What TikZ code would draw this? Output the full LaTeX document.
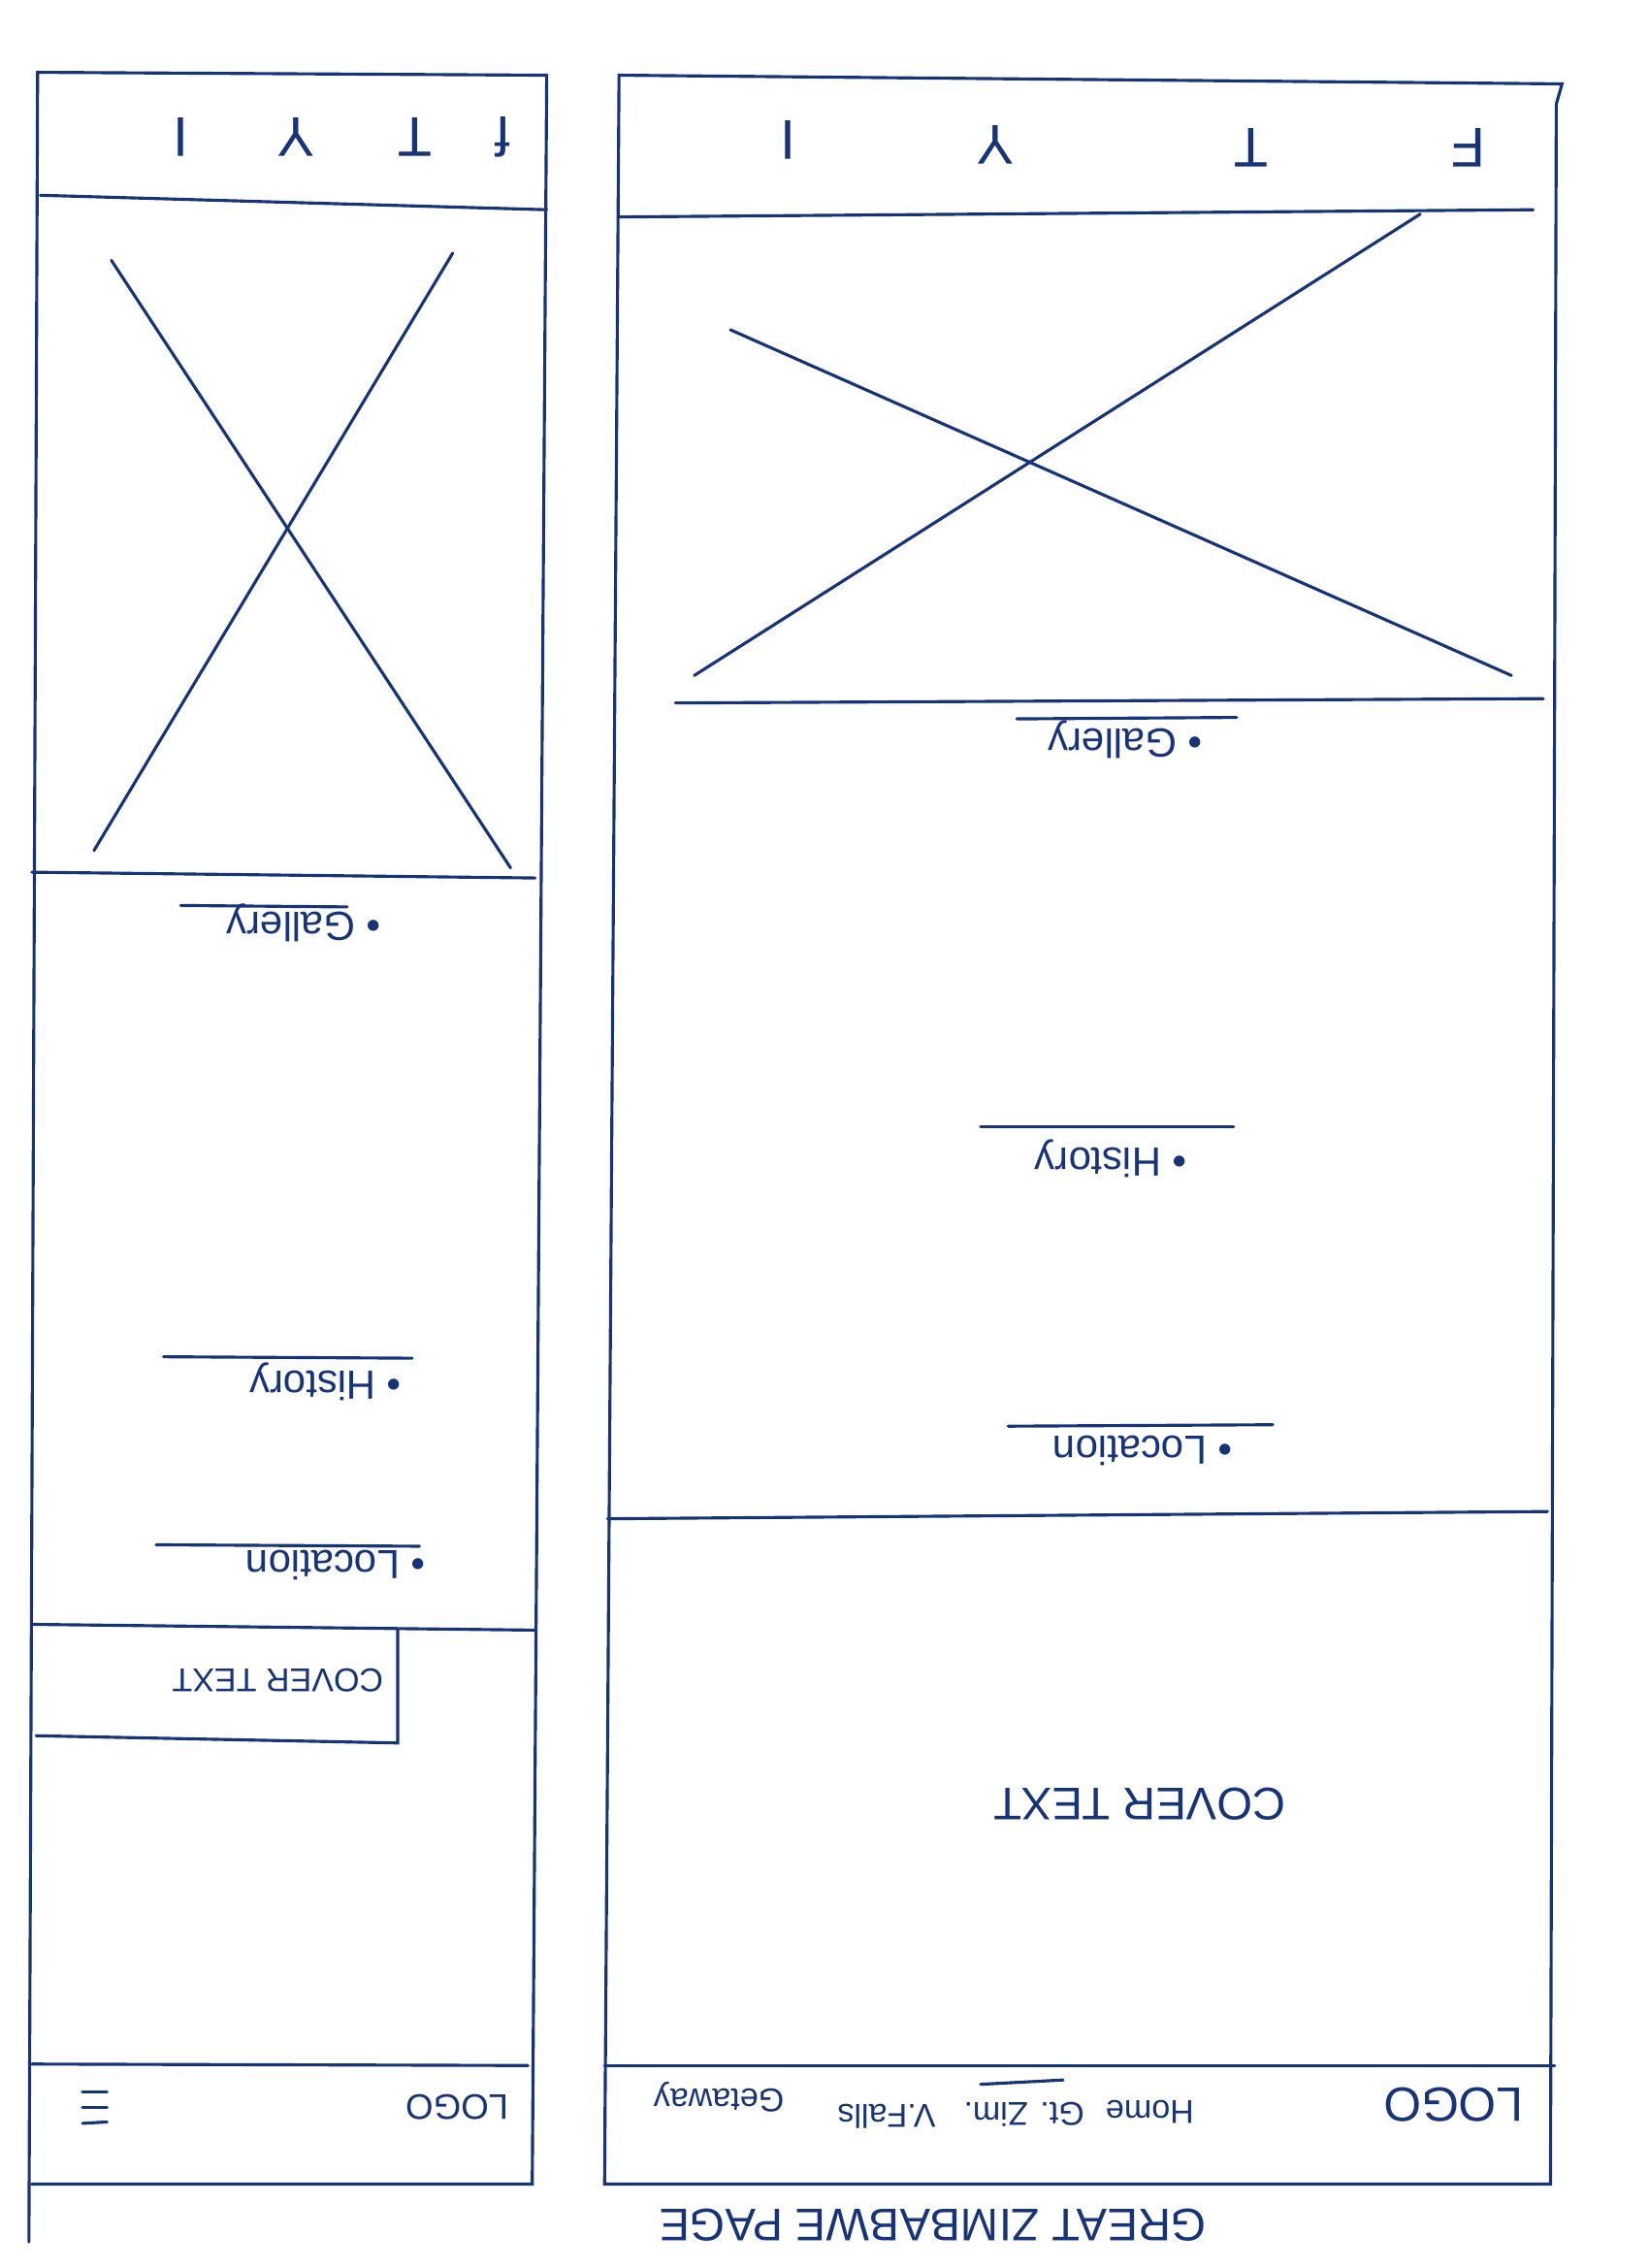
\documentclass[tikz,border=0pt]{standalone}
\usepackage{fontspec}
\setsansfont{Liberation Sans}
\definecolor{ink}{RGB}{24,52,120}
\begin{document}
\begin{tikzpicture}[x=0.02cm,y=-0.02cm,
  pen/.style={draw=ink,line width=1.2pt,line cap=round},
  lbl/.style={text=ink,rotate=180,inner sep=0pt,font=\sffamily},
  big/.style={lbl,font=\sffamily\fontsize{18}{20}\selectfont},
  mid/.style={lbl,font=\sffamily\fontsize{16}{18}\selectfont},
  sml/.style={lbl,font=\sffamily\fontsize{13}{15}\selectfont},
  ico/.style={lbl,font=\sffamily\fontsize{22}{24}\selectfont}]
\fill[white] (0,0) rectangle (1140,1568);
\useasboundingbox (0,0) rectangle (1140,1568);

% ===== mobile frame =====
\draw[pen] (20,1550) -- (26,50) -- (378,52) -- (368,1510) -- (22,1510);
\draw[pen] (28,135) -- (378,145);
\node[ico] (mf) at (348,95) {f};
\node[ico] (mt) at (287,95) {T};
\node[ico] (my) at (205,95) {Y};
\node[ico] (mi) at (125,95) {I};
\draw[pen] (77,180) -- (353,600);
\draw[pen] (313,175) -- (65,588);
\draw[pen] (22,603) -- (370,607);
\node[mid] (mgal) at (210,638) {\textbullet\ Gallery};
\draw[pen] (125,626) -- (240,627);
\node[mid] (mhis) at (225,955) {\textbullet\ History};
\draw[pen] (113,938) -- (285,939);
\node[mid] (mloc) at (232,1082) {\textbullet\ Location};
\draw[pen] (108,1068) -- (290,1069);
\draw[pen] (22,1123) -- (370,1127);
\draw[pen] (275,1127) -- (275,1205) -- (25,1200);
\node[lbl,font=\sffamily\fontsize{13}{15}\selectfont] (mcov) at (192,1162) {COVER TEXT};
\draw[pen] (22,1427) -- (365,1428);
\node[lbl,font=\sffamily\fontsize{14}{16}\selectfont] (mlogo) at (316,1457) {LOGO};
\draw[pen] (57,1446) -- (74,1446);
\draw[pen] (57,1457) -- (74,1457);
\draw[pen] (57,1468) -- (74,1467);

% ===== desktop frame =====
\draw[pen] (418,1510) -- (428,52) -- (1080,58) -- (1076,72) -- (1072,1510) -- cycle;
\draw[pen] (428,150) -- (1060,145);
\node[ico] (df) at (1015,102) {F};
\node[ico] (dt) at (865,102) {T};
\node[ico] (dy) at (688,100) {Y};
\node[ico] (di) at (545,97) {I};
\draw[pen] (505,228) -- (1045,467);
\draw[pen] (982,148) -- (480,467);
\draw[pen] (467,486) -- (1067,483);
\node[mid] (dgal) at (778,511) {\textbullet\ Gallery};
\draw[pen] (703,497) -- (855,496);
\node[mid] (dhis) at (768,801) {\textbullet\ History};
\draw[pen] (678,779) -- (853,779);
\node[mid] (dloc) at (790,1003) {\textbullet\ Location};
\draw[pen] (697,986) -- (880,985);
\draw[pen] (420,1050) -- (1070,1045);
\node[big] (dcov) at (788,1247) {COVER TEXT};
\draw[pen] (418,1428) -- (1075,1428);
\node[lbl,font=\sffamily\fontsize{19}{21}\selectfont] (dlogo) at (1005,1455) {LOGO};
\node[sml] (home) at (795,1460) {Home};
\node[sml] (gtzim) at (708,1462) {Gt. Zim.};
\draw[pen] (678,1441) -- (735,1438);
\node[sml] (vfalls) at (613,1463) {V.Falls};
\node[sml] (getaway) at (497,1450) {Getaway};
\node[lbl,font=\sffamily\fontsize{18}{20}\selectfont] (title) at (645,1538) {GREAT ZIMBABWE PAGE};
\end{tikzpicture}
\end{document}
